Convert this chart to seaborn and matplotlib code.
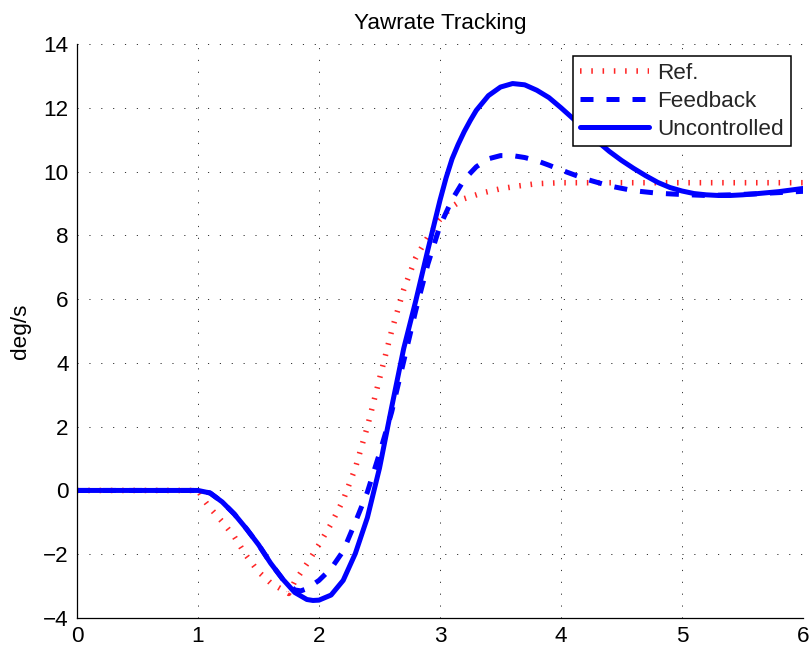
import matplotlib
matplotlib.use("Agg")
import matplotlib.pyplot as plt
import numpy as np
import pandas as pd
import seaborn as sns

# ---- data ----
t_ref = [0.0, 1.0, 1.05, 1.1, 1.2, 1.3, 1.4, 1.5, 1.6, 1.7, 1.75, 1.8, 1.9, 2.0, 2.1,
         2.2, 2.3, 2.4, 2.5, 2.6, 2.7, 2.8, 2.9, 3.0, 3.1, 3.2, 3.35, 3.5, 3.65, 3.8,
         4.0, 4.5, 5.0, 5.5, 6.0]
ref = [0.0, 0.0, -0.3, -0.55, -0.98, -1.45, -2.05, -2.55, -2.9, -3.12, -3.23, -2.85,
       -2.3, -1.7, -1.05, -0.3, 0.7, 2.0, 3.5, 5.0, 6.3, 7.3, 7.95, 8.5, 8.9, 9.15,
       9.33, 9.46, 9.55, 9.62, 9.65, 9.65, 9.65, 9.65, 9.65]

t_fb = [0.0, 1.0, 1.1, 1.2, 1.3, 1.4, 1.5, 1.6, 1.7, 1.8, 1.85, 1.9, 2.0, 2.1, 2.2,
        2.3, 2.4, 2.5, 2.6, 2.7, 2.8, 2.9, 3.0, 3.1, 3.2, 3.3, 3.4, 3.5, 3.6, 3.7,
        3.8, 3.9, 4.0, 4.2, 4.4, 4.6, 4.8, 5.0, 5.2, 5.4, 5.6, 5.8, 6.0]
feedback = [0.0, 0.0, -0.08, -0.36, -0.74, -1.2, -1.7, -2.28, -2.78, -3.12, -3.15,
            -3.08, -2.82, -2.45, -1.9, -1.0, -0.05, 1.16, 2.45, 4.05, 5.65, 7.1, 8.3,
            9.12, 9.75, 10.15, 10.4, 10.5, 10.5, 10.44, 10.34, 10.2, 10.05, 9.77, 9.55,
            9.4, 9.32, 9.28, 9.25, 9.27, 9.3, 9.34, 9.38]

t_unc = [0.0, 1.0, 1.1, 1.2, 1.3, 1.4, 1.5, 1.6, 1.7, 1.8, 1.9, 1.95, 2.0, 2.1, 2.2,
         2.3, 2.4, 2.5, 2.6, 2.7, 2.8, 2.9, 3.0, 3.05, 3.1, 3.15, 3.2, 3.25, 3.3, 3.4,
         3.5, 3.6, 3.7, 3.8, 3.9, 4.0, 4.1, 4.2, 4.3, 4.4, 4.5, 4.6, 4.7, 4.8, 4.9,
         5.0, 5.1, 5.2, 5.3, 5.4, 5.5, 5.6, 5.8, 6.0]
uncontrolled = [0.0, 0.0, -0.08, -0.36, -0.74, -1.2, -1.7, -2.28, -2.78, -3.2, -3.42,
                -3.45, -3.44, -3.28, -2.82, -1.98, -0.85, 0.7, 2.6, 4.45, 5.95, 7.55,
                9.1, 9.8, 10.4, 10.85, 11.25, 11.6, 11.92, 12.38, 12.65, 12.76, 12.72,
                12.55, 12.32, 12.0, 11.66, 11.3, 10.95, 10.63, 10.35, 10.1, 9.87, 9.66,
                9.5, 9.39, 9.31, 9.27, 9.25, 9.25, 9.27, 9.3, 9.37, 9.47]

labels = ["Ref.", "Feedback", "Uncontrolled"]
x_ticks = [0, 1, 2, 3, 4, 5, 6]
y_ticks = [-4, -2, 0, 2, 4, 6, 8, 10, 12, 14]

sns.set_theme(style="white")
plt.rcParams['font.family'] = ['Liberation Sans', 'DejaVu Sans']
FS = 16.2

fig = plt.figure(figsize=(8.12, 6.51), dpi=100)
W, H = 812, 651
ax = fig.add_axes([77 / W, 1 - 618 / H, (803 - 77) / W, (618 - 44) / H])

df_ref = pd.DataFrame({"t": t_ref, "v": ref})
df_fb = pd.DataFrame({"t": t_fb, "v": feedback})
df_unc = pd.DataFrame({"t": t_unc, "v": uncontrolled})

sns.lineplot(data=df_ref, x="t", y="v", ax=ax, color="#ff0000", estimator=None,
             sort=False, label=labels[0])
sns.lineplot(data=df_fb, x="t", y="v", ax=ax, color="#0000ff", estimator=None,
             sort=False, label=labels[1])
sns.lineplot(data=df_unc, x="t", y="v", ax=ax, color="#0000ff", estimator=None,
             sort=False, label=labels[2])

l_ref, l_fb, l_unc = ax.lines[:3]
l_ref.set_linewidth(4.0)
l_ref.set_linestyle((0, (0.28, 1.75)))
l_ref.set_dash_capstyle("butt")
l_ref.set_alpha(0.85)
l_fb.set_linewidth(3.6)
l_fb.set_linestyle((0, (2.6, 2.6)))
l_fb.set_dash_capstyle("butt")
l_unc.set_linewidth(3.6)

ax.set_xlim(0, 6)
ax.set_ylim(-4, 14)
ax.set_xticks(x_ticks)
ax.set_yticks(y_ticks)
ax.tick_params(axis="both", direction="in", length=5, width=0.8, color="black",
               labelsize=FS, labelcolor="black", pad=6)
ax.grid(True, color="#333333", linestyle=(0, (1.2, 11)), linewidth=0.7)
for s in ["top", "right"]:
    ax.spines[s].set_visible(False)
for s in ["left", "bottom"]:
    ax.spines[s].set_color("black")
    ax.spines[s].set_linewidth(0.9)

ax.set_xlabel("")
ax.set_ylabel("deg/s", fontsize=FS, color="black", labelpad=9)
ax.set_title("Yawrate Tracking", fontsize=FS, color="black", pad=11)

leg = ax.legend(loc="upper right", fontsize=FS, frameon=True, fancybox=False,
                framealpha=1, edgecolor="black", handlelength=3.1, handletextpad=0.35,
                borderpad=0.3, labelspacing=0.3, borderaxespad=0.55)
leg.get_frame().set_linewidth(1.1)

fig.savefig("out.png", dpi=100, facecolor="white")
